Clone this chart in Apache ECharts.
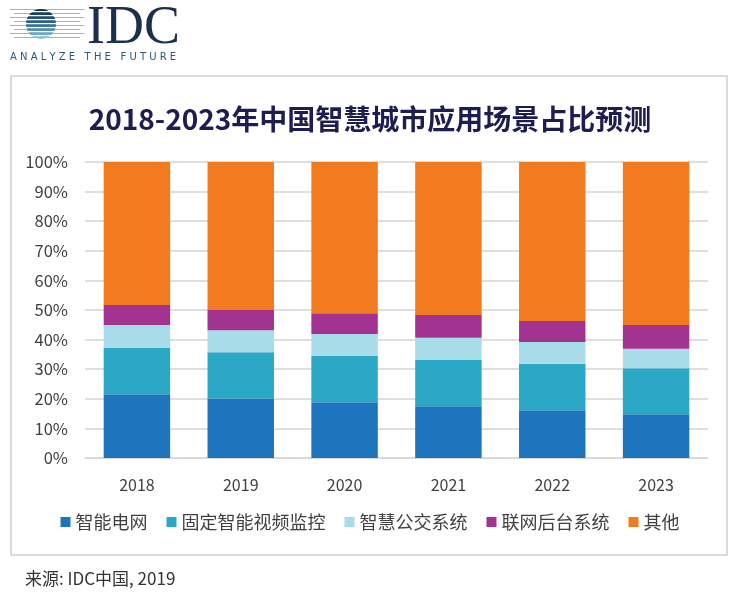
<!DOCTYPE html>
<html>
<head>
<meta charset="utf-8">
<script src="https://cdn.jsdelivr.net/npm/echarts@6/dist/echarts.min.js"></script>
<style>
html,body{margin:0;padding:0;background:#fff;}
#main{width:740px;height:599px;}
</style>
</head>
<body>
<div id="main"></div>
<script>
const categories = ['2018','2019','2020','2021','2022','2023'];
const seriesNames = ['智能电网','固定智能视频监控','智慧公交系统','联网后台系统','其他'];
const smartGrid   = [21.5, 20.1, 18.8, 17.5, 16.1, 14.8];
const videoMonitor = [15.7, 15.6, 15.7, 15.6, 15.7, 15.5];
const smartBus    = [7.7, 7.5, 7.4, 7.5, 7.4, 6.6];
const backend     = [6.8, 6.8, 7.0, 7.7, 7.1, 8.0];
const others      = [48.3, 50.0, 51.1, 51.7, 53.7, 55.1];
const yTicks = ['0%','10%','20%','30%','40%','50%','60%','70%','80%','90%','100%'];
const colors = ['#1E75BD','#2BA8C5','#A7DCE8','#A23390','#F27B1F'];
const valueSets = [smartGrid, videoMonitor, smartBus, backend, others];

const chart = echarts.init(document.getElementById('main'));
const font = '"Noto Sans CJK SC","Noto Sans",sans-serif';

// logo stripes (decoration)
const logo = [];
const stripeYs = [9,13,17,21,25,29,33,37];
stripeYs.forEach((y,i)=>{
  logo.push({type:'rect', shape:{x:10+(i%2)*4, y:y, width:74-(i%2)*8, height:1}, style:{fill:'#9fb3c3'}, z:1});
});
logo.push({type:'circle', shape:{cx:41, cy:24, r:15}, style:{fill:new echarts.graphic.LinearGradient(0,0,0,1,[{offset:0,color:'#0f2a44'},{offset:0.5,color:'#2f6b8c'},{offset:1,color:'#8ec9dc'}])}, z:2});
[11,15,19,23,27,31,35].forEach(y=>{
  logo.push({type:'rect', shape:{x:24, y:y, width:34, height:1.3}, style:{fill:'#ffffff'}, z:3});
});
logo.push({type:'text', left:87, top:2, style:{text:'IDC', font:'54px "Liberation Serif", serif', fill:'#1b2f4f'}, z:3});
logo.push({type:'text', left:10, top:52, style:{text:'A N A L Y Z E   T H E   F U T U R E', font:'10px "DejaVu Sans", sans-serif', fill:'#2a5a75'}, z:3});

chart.setOption({
  backgroundColor:'#fff',
  animation:false,
  color: colors,
  title:{
    text:'2018-2023年中国智慧城市应用场景占比预测',
    left:'center', top:100,
    textStyle:{fontFamily:font, fontSize:28, fontWeight:'bold', color:'#1d1d52'}
  },
  grid:{left:85, right:32, top:162, bottom:141},
  legend:{
    data: seriesNames,
    bottom:63, left:'center',
    itemWidth:10, itemHeight:10, itemGap:19,
    icon:'rect',
    textStyle:{fontFamily:font, fontSize:18, color:'#404040'}
  },
  xAxis:{
    type:'category', data:categories,
    axisLine:{lineStyle:{color:'#d4d4d4'}},
    axisTick:{show:false},
    axisLabel:{fontFamily:font, fontSize:16, color:'#404040', margin:19}
  },
  yAxis:{
    type:'value', min:0, max:100, interval:10,
    axisLabel:{fontFamily:font, fontSize:16.5, color:'#404040', margin:17,
      formatter:(v)=>yTicks[Math.round(v/10)]},
    splitLine:{lineStyle:{color:'#d4d4d4', width:1.5}},
    axisLine:{show:false}, axisTick:{show:false}
  },
  graphic:[
    {type:'rect', shape:{x:11, y:76, width:716, height:479}, style:{fill:'none', stroke:'#cfcfcf', lineWidth:1.5}, z:-1, silent:true},
    {type:'text', left:25, top:570, style:{text:'来源: IDC中国, 2019', font:'17px "Noto Sans CJK SC", sans-serif', fill:'#333'}},
    ...logo
  ],
  series: seriesNames.map((n,i)=>({
    name:n, type:'bar', stack:'total', barWidth:'64%',
    data: valueSets[i],
    itemStyle:{color:colors[i]}
  }))
});
</script>
</body>
</html>
